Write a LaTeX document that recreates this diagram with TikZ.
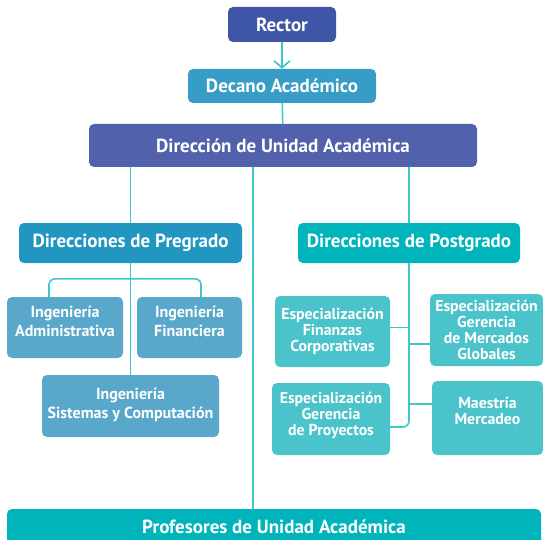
\documentclass[tikz,border=0pt]{standalone}
\usepackage{fontspec}
\setmainfont{PT Sans}
\usetikzlibrary{arrows.meta,positioning}

\definecolor{rectorblue}{HTML}{3F55A5}
\definecolor{decanoblue}{HTML}{379DC7}
\definecolor{dirblue}{HTML}{5161AC}
\definecolor{pregblue}{HTML}{2196C1}
\definecolor{ingblue}{HTML}{59A7CB}
\definecolor{postteal}{HTML}{00B4BC}
\definecolor{espteal}{HTML}{4BC3CA}
\definecolor{linecyan}{HTML}{3CC8CA}

\tikzset{
  box/.style={rounded corners=5pt, text=white, align=center, inner sep=0pt},
  head/.style={box, font=\bfseries\fontsize{19}{22}\selectfont},
  ing/.style={box, fill=ingblue, font=\bfseries\fontsize{16}{19}\selectfont},
  esp/.style={box, fill=espteal, font=\bfseries\fontsize{15.8}{16}\selectfont},
  link/.style={draw=linecyan, line width=1.6pt},
  lift/.style={text depth=#1},
}

\begin{document}
\begin{tikzpicture}[line cap=round,line join=round,x=1pt,y=-1pt]
  \useasboundingbox (0,0) rectangle (543,540);
  \clip (0,0) rectangle (543,540);
  % top of the chart
  \node[head, fill=rectorblue, minimum width=108, minimum height=35] (rector) at (282,24.5) {Rector};
  \node[head, fill=decanoblue, minimum width=188, minimum height=34] (decano) at (282,86) {Decano Académico};
  \node[head, fill=dirblue, minimum width=388, minimum height=43] (dir) at (283,145.5) {Dirección de Unidad Académica};
  \node[head, fill=pregblue, minimum width=223, minimum height=40] (preg) at (130.5,243) {Direcciones de Pregrado};
  \node[head, fill=postteal, minimum width=222, minimum height=40] (post) at (409,243) {Direcciones de Postgrado};
  \node[head, fill=postteal, minimum width=534, minimum height=36] (prof) at (274,527) {Profesores de Unidad Académica};
  \coordinate (mid) at (253,300);
  % pregrado
  \node[ing, lift=12pt, minimum width=116, minimum height=61] (ia) at (65,327.5) {Ingeniería\\Administrativa};
  \node[ing, lift=12pt, minimum width=105, minimum height=61] (ifin) at (189.5,327.5) {Ingeniería\\Financiera};
  \node[ing, lift=6pt, minimum width=177, minimum height=62] (isis) at (130.5,406) {Ingeniería\\Sistemas y Computación};
  % postgrado
  \node[esp, minimum width=115, minimum height=71] (efz) at (332.5,331.5) {Especialización\\Finanzas\\Corporativas};
  \node[esp, minimum width=113, minimum height=72] (emg) at (486.5,330) {Especialización\\Gerencia\\de Mercados\\Globales};
  \node[esp, lift=10pt, minimum width=118, minimum height=72] (egp) at (331,419) {Especialización\\Gerencia\\de Proyectos};
  \node[esp, lift=14pt, minimum width=111, minimum height=74] (mmk) at (487.5,418) {Maestría\\Mercadeo};

  \draw[link,-{Straight Barb[length=7pt,width=16pt]}] (rector) -- (decano);
  \draw[link] (decano) -- (dir);
  \draw[link] (dir.south -| preg) -- (preg);
  \draw[link] (dir.south -| mid) -- (prof.north -| mid);
  \draw[link] (dir.south -| post) -- (post);
  \draw[link] (preg) -- (isis);
  \draw[link, rounded corners=6pt] ([xshift=-16pt]ia.north) |- ([xshift=11.5pt,yshift=18pt]ifin.north) -- ([xshift=11.5pt]ifin.north);
  \draw[link, rounded corners=6pt] (post.south) |- ([yshift=-8pt]egp.east);
  \draw[link] ([yshift=4pt]efz.east) -- ([yshift=4pt]efz.east -| post);
  \draw[link] ([yshift=-14pt]emg.west) -- ([yshift=-14pt]emg.west -| post);
  \draw[link] ([yshift=14pt]mmk.west) -- ([yshift=14pt]mmk.west -| post);
\end{tikzpicture}
\end{document}
